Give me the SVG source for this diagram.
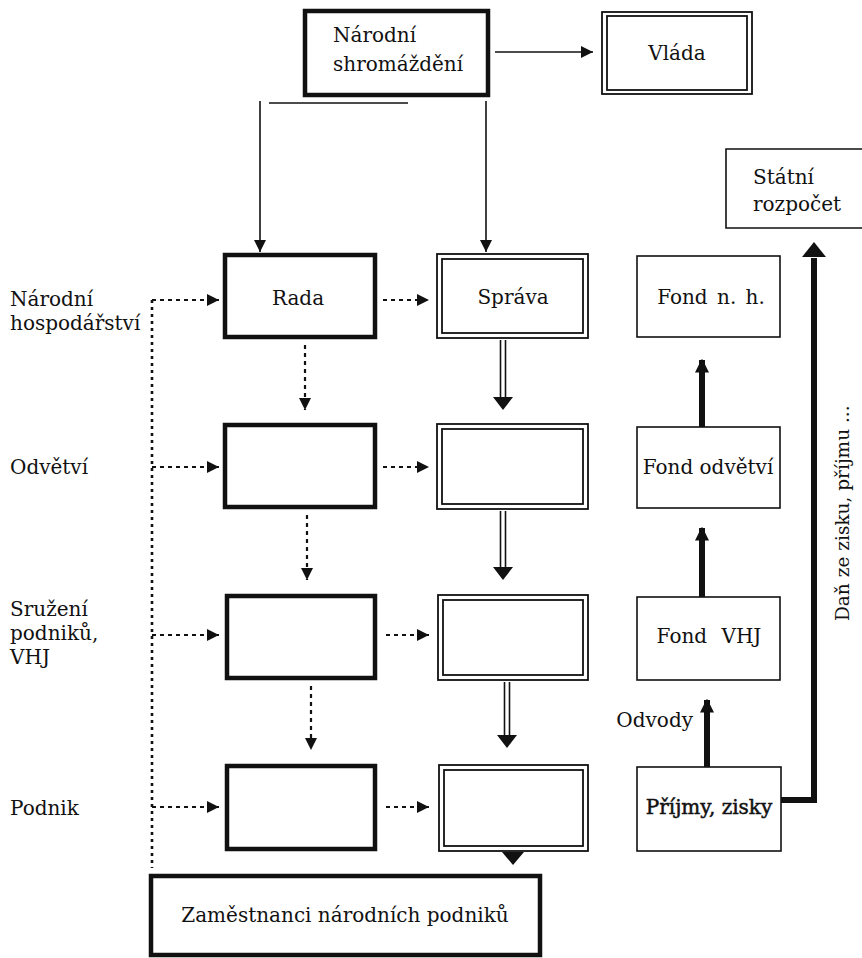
<svg xmlns="http://www.w3.org/2000/svg" width="862" height="958" viewBox="0 0 862 958">
<style>
  text { font-family: "DejaVu Serif", "Liberation Serif", serif; font-size: 20px; fill: #111; }
  .mid { text-anchor: middle; }
  .thick { fill: #fff; stroke: #111; stroke-width: 4.5; }
  .dbl { fill: none; stroke: #111; stroke-width: 1.8; }
  .fond { fill: #fff; stroke: #111; stroke-width: 1.6; }
  .thin { fill: none; stroke: #111; stroke-width: 1.6; }
  .dot { fill: none; stroke: #111; stroke-width: 2.2; stroke-dasharray: 4 4; }
  .vdot { fill: none; stroke: #111; stroke-width: 2.6; stroke-dasharray: 3 4; }
  .bigline { fill: none; stroke: #111; stroke-width: 6; }
  .head { fill: #111; stroke: none; }
</style>
<defs>
  <marker id="tri" viewBox="0 0 10 10" refX="10" refY="5" markerWidth="12" markerHeight="14" markerUnits="userSpaceOnUse" orient="auto">
    <path d="M0,0 L10,5 L0,10 z" fill="#111"/>
  </marker>
  <marker id="big" viewBox="0 0 10 10" refX="9" refY="5" markerWidth="14" markerHeight="22" markerUnits="userSpaceOnUse" orient="auto">
    <path d="M0,0 L10,5 L0,10 z" fill="#111"/>
  </marker>
</defs>
<rect width="862" height="958" fill="#fff"/>

<g font-family="DejaVu Serif, Liberation Serif, serif">
<g id="labels">
  <text x="10" y="306">Národní</text>
  <text x="10" y="330">hospodářství</text>
  <text x="10" y="474">Odvětví</text>
  <text x="10" y="616">Sružení</text>
  <text x="10" y="640">podniků,</text>
  <text x="10" y="664">VHJ</text>
  <text x="10" y="815">Podnik</text>
</g>

<g id="narodni-shromazdeni">
  <rect class="thick" x="305" y="11" width="183" height="84"/>
  <text x="333" y="42">Národní</text>
  <text x="333" y="71">shromáždění</text>
</g>

<g id="vlada">
  <rect class="dbl" x="602" y="12" width="150" height="82"/>
  <rect class="dbl" x="607" y="16" width="140" height="74"/>
  <text class="mid" x="677" y="60">Vláda</text>
</g>

<g id="statni-rozpocet">
  <path class="thin" d="M870,149 H726 V228 H870"/>
  <text x="753" y="184">Státní</text>
  <text x="753" y="211">rozpočet</text>
</g>

<g id="rada">
  <rect class="thick" x="225" y="255" width="150" height="82"/>
  <text class="mid" x="298" y="305">Rada</text>
</g>
<g id="sprava">
  <rect class="dbl" x="437" y="254" width="151" height="84"/>
  <rect class="dbl" x="442" y="259" width="141" height="74"/>
  <text class="mid" x="513" y="304">Správa</text>
</g>
<g id="fond-nh">
  <rect class="fond" x="637" y="256" width="143" height="81"/>
  <text class="mid" x="711" y="304" word-spacing="3">Fond n. h.</text>
</g>

<g id="rada-odvetvi">
  <rect class="thick" x="225" y="425" width="150" height="82"/>
</g>
<g id="sprava-odvetvi">
  <rect class="dbl" x="437" y="424" width="151" height="85"/>
  <rect class="dbl" x="442" y="429" width="141" height="75"/>
</g>
<g id="fond-odvetvi">
  <rect class="fond" x="637" y="427" width="143" height="81"/>
  <text class="mid" x="708" y="474">Fond odvětví</text>
</g>

<g id="rada-vhj">
  <rect class="thick" x="227" y="596" width="148" height="82"/>
</g>
<g id="sprava-vhj">
  <rect class="dbl" x="438" y="595" width="150" height="85"/>
  <rect class="dbl" x="443" y="600" width="140" height="75"/>
</g>
<g id="fond-vhj">
  <rect class="fond" x="637" y="597" width="143" height="83"/>
  <text class="mid" x="709" y="643" word-spacing="8">Fond VHJ</text>
</g>

<g id="rada-podnik">
  <rect class="thick" x="227" y="766" width="148" height="83"/>
</g>
<g id="sprava-podnik">
  <rect class="dbl" x="439" y="765" width="149" height="86"/>
  <rect class="dbl" x="444" y="770" width="139" height="76"/>
</g>
<g id="prijmy-zisky">
  <rect class="fond" x="637" y="767" width="144" height="84"/>
  <text class="mid" x="709" y="814" stroke="#111" stroke-width="0.5">Příjmy, zisky</text>
</g>

<g id="zamestnanci">
  <rect class="thick" x="151" y="876" width="389" height="79"/>
  <text class="mid" x="345" y="922">Zaměstnanci národních podniků</text>
</g>

<g id="dan-label">
  <text transform="translate(849,621) rotate(-90)" style="font-size:18.5px">Daň ze zisku, příjmu ...</text>
</g>

<g id="connectors">
  <line class="thin" x1="495" y1="52" x2="593" y2="52" marker-end="url(#tri)"/>
  <line class="thin" x1="269" y1="103" x2="408" y2="103"/>
  <line class="thin" x1="260" y1="101" x2="260" y2="252" marker-end="url(#tri)"/>
  <line class="thin" x1="486" y1="101" x2="486" y2="252" marker-end="url(#tri)"/>

  <line class="vdot" x1="152" y1="300" x2="152" y2="868"/>
  <line class="dot" x1="152" y1="300" x2="219" y2="300" marker-end="url(#tri)"/>
  <line class="dot" x1="152" y1="467" x2="219" y2="467" marker-end="url(#tri)"/>
  <line class="dot" x1="152" y1="635" x2="219" y2="635" marker-end="url(#tri)"/>
  <line class="dot" x1="152" y1="807" x2="219" y2="807" marker-end="url(#tri)"/>

  <line class="dot" x1="383" y1="300" x2="429" y2="300" marker-end="url(#tri)"/>
  <line class="dot" x1="383" y1="467" x2="429" y2="467" marker-end="url(#tri)"/>
  <line class="dot" x1="386" y1="635" x2="429" y2="635" marker-end="url(#tri)"/>
  <line class="dot" x1="386" y1="807" x2="429" y2="807" marker-end="url(#tri)"/>

  <line class="dot" x1="305" y1="345" x2="305" y2="410" marker-end="url(#tri)"/>
  <line class="dot" x1="307" y1="515" x2="307" y2="580" marker-end="url(#tri)"/>
  <line class="dot" x1="311" y1="686" x2="311" y2="750" marker-end="url(#tri)"/>

  <path class="thin" d="M500.5,340 V399 M505.5,340 V399"/>
  <polygon class="head" points="493,397 513,397 503,410"/>
  <path class="thin" d="M500.5,511 V569 M505.5,511 V569"/>
  <polygon class="head" points="493,567 513,567 503,580"/>
  <path class="thin" d="M504.5,682 V737 M509.5,682 V737"/>
  <polygon class="head" points="497,735 517,735 507,748"/>
  <polygon class="head" points="502,852 524,852 513,865"/>

  <line class="bigline" x1="702" y1="427" x2="702" y2="360" marker-end="url(#big)"/>
  <line class="bigline" x1="702" y1="597" x2="702" y2="528" marker-end="url(#big)"/>
  <line class="bigline" x1="707" y1="767" x2="707" y2="700" marker-end="url(#big)"/>
  <text x="693" y="727" style="text-anchor:end">Odvody</text>

  <path class="bigline" d="M781,800 H814 V258"/>
  <polygon class="head" points="802,257 826,257 814,242"/>
</g>
</g>
</svg>
